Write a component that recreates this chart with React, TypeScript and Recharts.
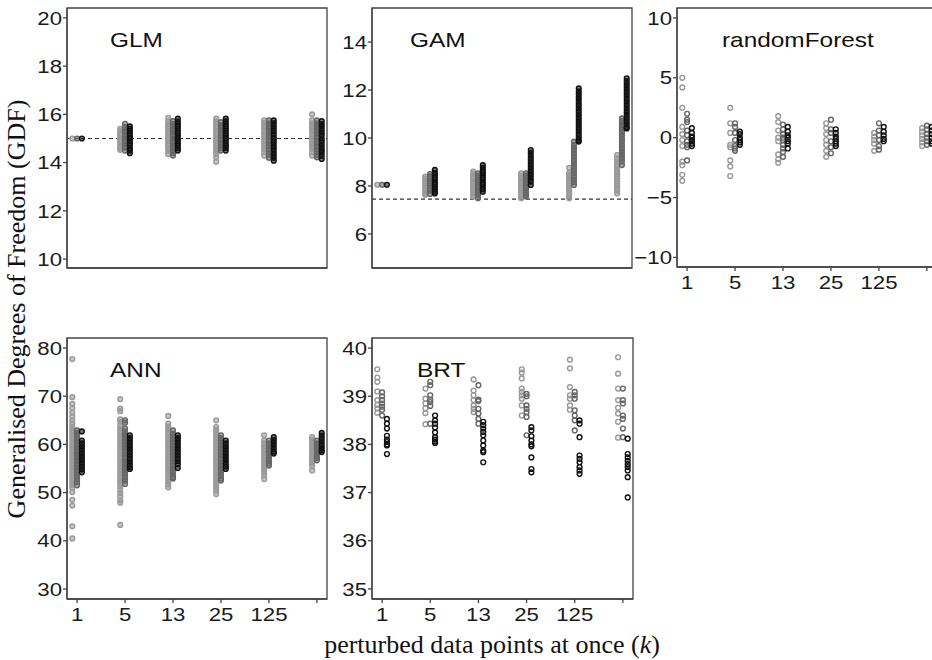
import { ReferenceArea, ReferenceLine, Scatter, ScatterChart, XAxis, YAxis } from "recharts";

const SANS = "'Liberation Sans', Arial, sans-serif";
const SERIF = "'Liberation Serif', 'Times New Roman', serif";

// k categories (last one has no label in the original)
const categories = ["1", "5", "13", "25", "125", ""];

// each strip array: one list of GDF values per category
const glmLight = [
  [15.0],
  [15.4, 15.31, 15.2, 15.12, 15.01, 14.9, 14.82, 14.71, 14.62, 14.53],
  [15.86, 15.72, 15.61, 15.5, 15.41, 15.3, 15.2, 15.09, 15.0, 14.9, 14.79, 14.7, 14.6, 14.48, 14.36],
  [15.82, 15.7, 15.6, 15.49, 15.4, 15.3, 15.19, 15.1, 15.0, 14.9, 14.81, 14.7, 14.6, 14.49, 14.36, 14.22, 14.04],
  [15.75, 15.64, 15.52, 15.41, 15.28, 15.16, 15.05, 14.92, 14.8, 14.69, 14.56, 14.44, 14.29],
  [16.0, 15.75, 15.63, 15.52, 15.4, 15.29, 15.16, 15.04, 14.93, 14.8, 14.68, 14.57, 14.44, 14.29],
];
const glmMid = [
  [15.0],
  [15.61, 15.47, 15.35, 15.24, 15.11, 14.99, 14.88, 14.75, 14.63, 14.5],
  [15.72, 15.6, 15.49, 15.36, 15.24, 15.13, 15.0, 14.88, 14.77, 14.64, 14.52, 14.4, 14.29],
  [15.68, 15.56, 15.45, 15.32, 15.2, 15.09, 14.96, 14.84, 14.73, 14.6, 14.5],
  [15.75, 15.63, 15.51, 15.4, 15.27, 15.15, 15.04, 14.91, 14.79, 14.68, 14.55, 14.43, 14.31, 14.2],
  [15.75, 15.63, 15.52, 15.39, 15.27, 15.16, 15.03, 14.91, 14.8, 14.67, 14.55, 14.44, 14.31, 14.22],
];
const glmDark = [
  [15.0],
  [15.5, 15.4, 15.31, 15.2, 15.1, 15.01, 14.9, 14.8, 14.71, 14.6, 14.5, 14.39],
  [15.82, 15.7, 15.6, 15.51, 15.4, 15.3, 15.2, 15.1, 15.01, 14.9, 14.8, 14.7, 14.6, 14.5],
  [15.82, 15.71, 15.6, 15.5, 15.4, 15.31, 15.2, 15.1, 15.0, 14.9, 14.8, 14.7, 14.61, 14.5],
  [15.75, 15.64, 15.52, 15.4, 15.29, 15.16, 15.04, 14.92, 14.81, 14.68, 14.56, 14.44, 14.32, 14.2, 14.08],
  [15.72, 15.6, 15.49, 15.36, 15.24, 15.12, 15.0, 14.89, 14.76, 14.64, 14.52, 14.41, 14.28, 14.15],
];

const gamLight = [
  [8.05],
  [8.39, 8.3, 8.2, 8.11, 8.0, 7.9, 7.81, 7.7, 7.63],
  [8.6, 8.5, 8.4, 8.31, 8.2, 8.1, 8.0, 7.91, 7.8, 7.7, 7.6, 7.56],
  [8.53, 8.42, 8.31, 8.2, 8.1, 8.0, 7.9, 7.8, 7.71, 7.6, 7.49],
  [8.76, 8.55, 8.46, 8.4, 8.3, 8.2, 8.1, 8.0, 7.9, 7.8, 7.7, 7.6, 7.49],
  [9.29, 9.15, 9.02, 8.9, 8.8, 8.7, 8.6, 8.5, 8.4, 8.3, 8.2, 8.1, 8.0, 7.9, 7.8, 7.69],
];
const gamMid = [
  [8.05],
  [8.5, 8.4, 8.3, 8.2, 8.1, 8.0, 7.9, 7.8, 7.67],
  [8.53, 8.43, 8.33, 8.23, 8.13, 8.03, 7.93, 7.83, 7.73, 7.63, 7.49],
  [8.53, 8.43, 8.33, 8.23, 8.13, 8.03, 7.93, 7.83, 7.73, 7.63, 7.56],
  [9.85, 9.71, 9.6, 9.48, 9.36, 9.24, 9.12, 9.0, 8.88, 8.76, 8.64, 8.52, 8.4, 8.28, 8.16, 8.04],
  [10.82, 10.7, 10.58, 10.46, 10.34, 10.22, 10.1, 9.98, 9.86, 9.74, 9.62, 9.5, 9.38, 9.26, 9.14, 9.02, 8.87],
];
const gamDark = [
  [8.05],
  [8.67, 8.55, 8.46, 8.36, 8.26, 8.16, 8.06, 7.96, 7.86, 7.76, 7.69],
  [8.87, 8.76, 8.66, 8.56, 8.46, 8.36, 8.26, 8.16, 8.06, 7.96, 7.86, 7.76],
  [9.5, 9.38, 9.26, 9.14, 9.02, 8.9, 8.78, 8.66, 8.54, 8.42, 8.3, 8.18, 8.04],
  [12.07, 11.95, 11.83, 11.71, 11.59, 11.47, 11.35, 11.23, 11.11, 10.99, 10.87, 10.75, 10.63, 10.51, 10.39, 10.27, 10.15, 10.03, 9.91, 9.85],
  [12.49, 12.37, 12.25, 12.13, 12.01, 11.89, 11.77, 11.65, 11.53, 11.41, 11.29, 11.17, 11.05, 10.93, 10.81, 10.69, 10.57, 10.45, 10.4],
];

const rfLight = [
  [5.0, 4.2, 2.5, 0.9, 0.3, -0.2, -0.7, -2.0, -2.3, -3.1, -3.6],
  [2.5, 1.2, 0.4, -0.6, -0.8, -1.9, -2.4, -3.2],
  [1.8, 1.3, 0.6, 0.0, -0.3, -1.4, -1.8, -2.1],
  [1.2, 0.8, 0.3, -0.2, -0.6, -1.1, -1.6],
  [0.4, 0.1, -0.2, -0.5, -1.1],
  [0.8, 0.5, 0.2, -0.1, -0.4, -0.7],
];
const rfMid = [
  [2.0, 1.5, 1.3, 0.6, 0.2, -0.3, -0.6, -0.8, -1.9],
  [1.2, 0.9, 0.4, -0.2, -0.7, -0.9, -1.1],
  [1.1, 0.7, 0.3, 0.0, -0.2, -0.6, -0.9, -1.2, -1.6],
  [1.5, 0.7, 0.4, -0.3, -0.8, -1.3],
  [1.2, 0.6, 0.2, -0.2, -0.7, -1.0],
  [1.0, 0.7, 0.3, 0.0, -0.3, -0.6],
];
const rfDark = [
  [0.8, 0.4, 0.1, 0.0, -0.2, -0.3, -0.5, -0.7],
  [0.5, 0.3, 0.0, -0.2, -0.4, -0.6],
  [0.9, 0.5, 0.2, 0.0, -0.3, -0.5, -0.9],
  [0.7, 0.4, 0.1, -0.1, -0.3, -0.5, -0.7],
  [0.9, 0.5, 0.2, -0.1, -0.3],
  [0.9, 0.6, 0.3, 0.0, -0.3, -0.5],
];

const annLight = [
  [77.7, 69.8, 68.4, 67.5, 66.6, 65.8, 65.0, 64.3, 63.6, 63.0, 62.4, 61.8, 61.2, 60.6, 60.0, 59.4, 58.8, 58.2, 57.6, 57.0, 56.4, 55.8, 55.2, 54.6, 54.0, 53.4, 52.8, 52.2, 51.6, 51.0, 50.1, 48.5, 47.3, 43.0, 40.5],
  [69.4, 67.4, 66.9, 65.2, 64.7, 63.9, 63.3, 62.7, 62.1, 61.5, 60.9, 60.3, 59.7, 59.1, 58.5, 57.9, 57.3, 56.7, 56.1, 55.5, 54.9, 54.3, 53.7, 53.1, 52.5, 51.9, 51.3, 50.6, 49.9, 49.2, 48.4, 47.9, 43.3],
  [65.9, 64.3, 63.7, 63.1, 62.5, 61.9, 61.3, 60.7, 60.1, 59.5, 58.9, 58.3, 57.7, 57.1, 56.5, 55.9, 55.3, 54.7, 54.1, 53.5, 52.9, 52.3, 51.7, 51.1],
  [65.0, 63.6, 63.0, 62.4, 61.8, 61.2, 60.6, 60.0, 59.4, 58.8, 58.2, 57.6, 57.0, 56.4, 55.8, 55.2, 54.6, 54.0, 53.4, 52.8, 52.2, 51.6, 51.0, 50.4, 49.7],
  [61.9, 60.8, 60.2, 59.6, 59.0, 58.4, 57.8, 57.2, 56.6, 56.0, 55.4, 54.8, 54.2, 53.6, 52.8],
  [61.5, 60.9, 60.3, 59.7, 59.1, 58.5, 57.9, 57.3, 56.7, 56.1, 55.5, 54.6],
];
const annMid = [
  [62.9, 62.4, 61.8, 61.2, 60.6, 60.0, 59.4, 58.8, 58.2, 57.6, 57.0, 56.4, 55.8, 55.2, 54.6, 54.0, 53.4, 52.8, 52.2, 51.5],
  [65.0, 64.5, 63.3, 62.7, 62.1, 61.5, 60.9, 60.3, 59.7, 59.1, 58.5, 57.9, 57.3, 56.7, 56.1, 55.5, 54.9, 54.3, 53.7, 53.1, 52.5, 51.8],
  [62.9, 62.2, 61.6, 61.0, 60.4, 59.8, 59.2, 58.6, 58.0, 57.4, 56.8, 56.2, 55.6, 55.0, 54.4, 53.8, 53.2, 52.9],
  [61.9, 61.3, 60.7, 60.1, 59.5, 58.9, 58.3, 57.7, 57.1, 56.5, 55.9, 55.3, 54.7, 54.1, 53.5, 52.9, 52.5],
  [60.8, 60.2, 59.6, 59.0, 58.4, 57.8, 57.2, 56.6, 56.0, 55.6],
  [60.8, 60.2, 59.6, 59.0, 58.4, 57.8, 57.2, 56.7],
];
const annDark = [
  [62.7, 60.8, 60.2, 59.6, 59.0, 58.4, 57.8, 57.2, 56.6, 56.0, 55.4, 54.8, 54.2],
  [61.9, 61.3, 60.7, 60.1, 59.5, 58.9, 58.3, 57.7, 57.1, 56.5, 55.9, 55.3, 54.9],
  [61.9, 61.3, 60.7, 60.1, 59.5, 58.9, 58.3, 57.7, 57.1, 56.5, 55.9, 55.1],
  [60.8, 60.2, 59.6, 59.0, 58.4, 57.8, 57.2, 56.6, 56.0, 55.4, 54.9],
  [61.5, 60.9, 60.3, 59.7, 59.1, 58.5, 58.1],
  [62.4, 61.8, 61.2, 60.6, 60.0, 59.4, 58.8, 58.4],
];

const brtLight = [
  [39.56, 39.39, 39.3, 39.1, 38.92, 38.82, 38.75, 38.66],
  [39.16, 38.95, 38.85, 38.75, 38.65, 38.42],
  [39.35, 39.12, 39.02, 38.92, 38.81, 38.74, 38.67],
  [39.56, 39.49, 39.37, 39.16, 39.09, 39.02, 38.95, 38.81, 38.6],
  [39.76, 39.58, 39.19, 39.02, 38.95, 38.81, 38.72],
  [39.81, 39.47, 39.16, 38.92, 38.76, 38.64, 38.47, 38.14],
];
const brtMid = [
  [39.08, 39.0, 38.92, 38.85, 38.78, 38.72, 38.6],
  [39.3, 39.23, 39.02, 38.93, 38.88, 38.8, 38.43],
  [39.23, 38.93, 38.9, 38.74, 38.64, 38.53, 38.43],
  [39.05, 39.0, 38.81, 38.74, 38.67, 38.57, 38.19],
  [39.09, 39.02, 38.95, 38.71, 38.6, 38.5, 38.29],
  [39.16, 38.92, 38.85, 38.6, 38.53, 38.33, 38.15],
];
const brtDark = [
  [38.53, 38.43, 38.33, 38.18, 38.1, 38.05, 37.98, 38.0, 37.8],
  [38.6, 38.5, 38.43, 38.35, 38.25, 38.15, 38.1, 38.06, 38.03],
  [38.47, 38.4, 38.33, 38.26, 38.19, 38.08, 37.98, 37.87, 37.84, 37.63],
  [38.36, 38.29, 38.17, 38.08, 38.0, 37.96, 37.73, 37.49, 37.42],
  [38.5, 38.43, 38.15, 37.77, 37.7, 37.63, 37.53, 37.46, 37.39],
  [38.12, 37.8, 37.73, 37.66, 37.59, 37.53, 37.46, 37.32, 36.9],
];

const glmTicks = [10, 12, 14, 16, 18, 20];
const gamTicks = [6, 8, 10, 12, 14];
const rfTicks = [-10, -5, 0, 5, 10];
const annTicks = [30, 40, 50, 60, 70, 80];
const brtTicks = [35, 36, 37, 38, 39, 40];

const glmRef = 15;
const gamRef = 7.45;

const AXIS = "#444";
const SHADES = ["#999999", "#666666", "#111111"];
const OFFSETS = [-0.1, 0, 0.1];
const X_DOMAIN = [0.79, 6.21];

const panels = [
  { name: "GLM", strips: [glmLight, glmMid, glmDark], ticks: glmTicks, domain: [9.63, 20.41], box: [67, 8, 260, 260], xLabels: false, refY: glmRef, dense: true, title: [110, 47] },
  { name: "GAM", strips: [gamLight, gamMid, gamDark], ticks: gamTicks, domain: [4.58, 15.42], box: [372, 8, 260, 260], xLabels: false, refY: gamRef, dense: true, title: [410, 47] },
  { name: "randomForest", strips: [rfLight, rfMid, rfDark], ticks: rfTicks, domain: [-10.8, 10.83], box: [677, 8, 260, 259], xLabels: true, refY: null, dense: false, title: [722, 47] },
  { name: "ANN", strips: [annLight, annMid, annDark], ticks: annTicks, domain: [27.93, 82.07], box: [67, 338, 260, 261], xLabels: true, refY: null, dense: true, title: [110, 377] },
  { name: "BRT", strips: [brtLight, brtMid, brtDark], ticks: brtTicks, domain: [34.79, 40.21], box: [372, 338, 261, 261], xLabels: true, refY: null, dense: false, title: [417, 377] },
];

function toPoints(strip: number[][], offset: number) {
  return strip.flatMap((vals, i) => vals.map((v) => ({ x: i + 1 + offset, y: v })));
}

const fmtNum = (v: number) => (v < 0 ? "\u2212" + Math.abs(v) : String(v));

// open circles; in the crowded panels they get a soft fill so stacked strips read as solid bars
function ring(color: string, dense: boolean) {
  return (props: any) => (
    <circle
      cx={props.cx}
      cy={props.cy}
      r={2.4}
      fill={dense ? color : "none"}
      fillOpacity={dense ? 0.55 : 0}
      stroke={color}
      strokeWidth={1.4}
    />
  );
}

function StretchTick(props: any) {
  const { x, y, payload, anchor, dy, fmt } = props;
  return (
    <g transform={`translate(${x},${y}) scale(1.2,1)`}>
      <text x={0} y={0} dy={dy} textAnchor={anchor} fontFamily={SANS} fontSize={18.5} fill="#1a1a1a">
        {fmt(payload.value)}
      </text>
    </g>
  );
}

function Panel({ p }: { p: any }) {
  const [bx, by, bw, bh] = p.box;
  return (
    <div style={{ position: "absolute", left: bx - 60, top: by - 5 }}>
      <ScatterChart width={bw + 65} height={bh + 40} margin={{ top: 5, right: 5, left: 10, bottom: 0 }}>
        <XAxis
          type="number"
          dataKey="x"
          domain={X_DOMAIN}
          ticks={[1, 2, 3, 4, 5, 6]}
          allowDataOverflow
          height={35}
          stroke={AXIS}
          strokeWidth={1.3}
          tickSize={4}
          tickMargin={5}
          tickLine={p.xLabels ? { stroke: AXIS } : false}
          tick={
            p.xLabels
              ? (t: any) => <StretchTick {...t} anchor="middle" dy="0.71em" fmt={(v: number) => categories[v - 1]} />
              : false
          }
        />
        <YAxis
          type="number"
          dataKey="y"
          domain={p.domain}
          ticks={p.ticks}
          allowDataOverflow
          width={50}
          stroke={AXIS}
          strokeWidth={1.3}
          tickSize={4}
          tickMargin={1}
          tickLine={{ stroke: AXIS }}
          tick={(t: any) => <StretchTick {...t} anchor="end" dy="0.36em" fmt={fmtNum} />}
        />
        <ReferenceArea
          x1={X_DOMAIN[0]}
          x2={X_DOMAIN[1]}
          y1={p.domain[0]}
          y2={p.domain[1]}
          ifOverflow="visible"
          fill="none"
          fillOpacity={0}
          stroke={AXIS}
          strokeWidth={1.3}
        />
        {p.refY !== null && (
          <ReferenceLine y={p.refY} stroke="#333" strokeDasharray="4 3" strokeWidth={1.2} />
        )}
        {p.strips.map((strip: number[][], i: number) => (
          <Scatter
            key={i}
            data={toPoints(strip, OFFSETS[i])}
            shape={ring(SHADES[i], p.dense)}
            isAnimationActive={false}
          />
        ))}
      </ScatterChart>
    </div>
  );
}

export default function App() {
  return (
    <div style={{ position: "absolute", left: 0, top: 0, width: 932, height: 660, overflow: "hidden", background: "#fff" }}>
      {panels.map((p) => (
        <Panel key={p.name} p={p} />
      ))}
      <svg width={932} height={660} style={{ position: "absolute", left: 0, top: 0, pointerEvents: "none" }}>
        {panels.map((p) => (
          <g key={p.name} transform={`translate(${p.title[0]},${p.title[1]}) scale(1.22,1)`}>
            <text x={0} y={0} fontFamily={SANS} fontSize={20} fill="#111">
              {p.name}
            </text>
          </g>
        ))}
        <text
          transform="translate(25,309) rotate(-90)"
          textAnchor="middle"
          fontFamily={SERIF}
          fontSize={26}
          fill="#111"
        >
          Generalised Degrees of Freedom (GDF)
        </text>
        <text x={492} y={653} textAnchor="middle" fontFamily={SERIF} fontSize={26} fill="#111">
          perturbed data points at once (<tspan fontStyle="italic">k</tspan>)
        </text>
      </svg>
    </div>
  );
}
